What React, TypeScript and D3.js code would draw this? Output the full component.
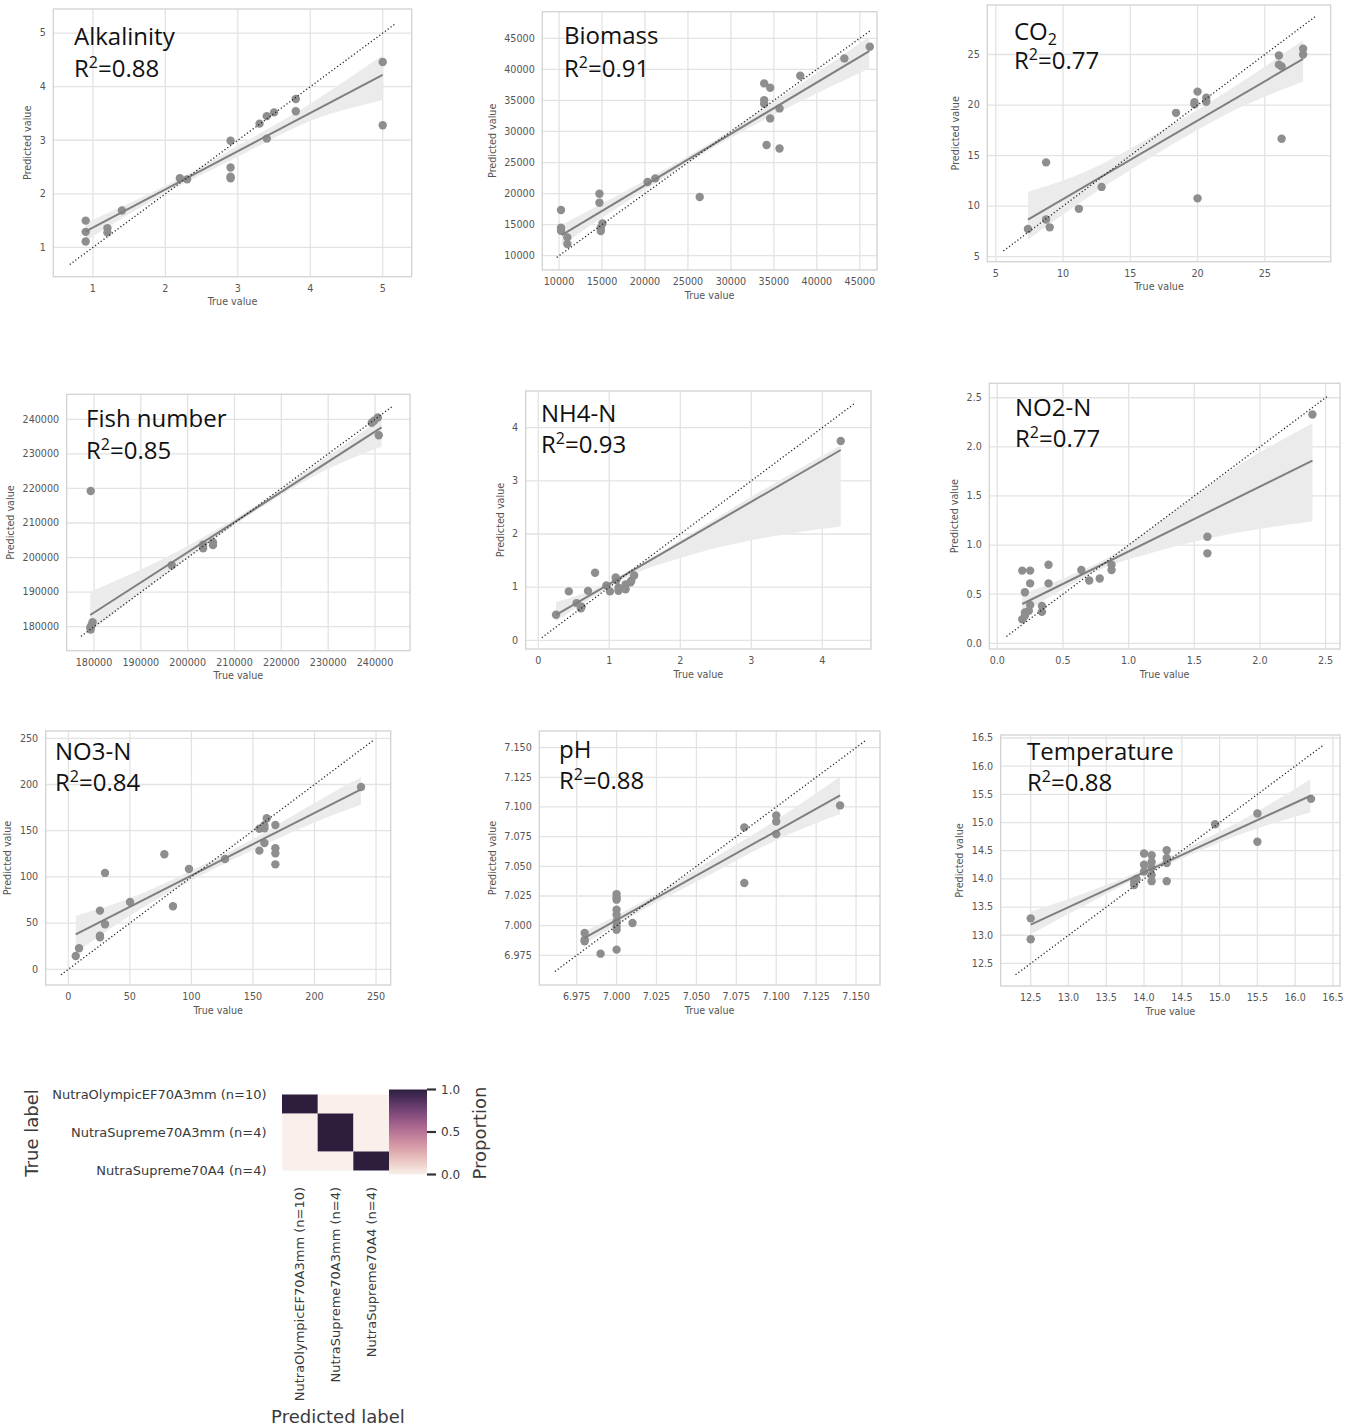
import React from 'react';
import * as d3 from 'd3';

// ---------------- DATA ----------------
const alkTrue = [0.9, 0.9, 0.9, 1.2, 1.2, 1.4, 2.2, 2.3, 2.9, 2.9, 2.9, 2.9, 3.3, 3.4, 3.5, 3.4, 3.8, 3.8, 5.0, 5.0];
const alkPred = [1.5, 1.29, 1.11, 1.36, 1.28, 1.69, 2.29, 2.27, 2.99, 2.49, 2.32, 2.29, 3.31, 3.45, 3.52, 3.03, 3.77, 3.54, 4.46, 3.28];
const alkFit = [0.9, 1.3, 5.0, 4.22];
const alkBandX = [0.9, 2.0, 2.9, 4.0, 5.0];
const alkBandLo = [1.12, 2.01, 2.62, 3.36, 3.75];
const alkBandHi = [1.46, 2.15, 2.82, 3.68, 4.59];
const alkIdent = [0.68, 5.18];
const alkTicks = [1, 2, 3, 4, 5];

const bioTrue = [10230, 10230, 10230, 10970, 10970, 14700, 14700, 14860, 14860, 15050, 20300, 21200, 26370, 33870, 33870, 33870, 34570, 34150, 34570, 35660, 35660, 38070, 43200, 46160];
const bioPred = [17350, 14500, 14000, 12950, 11880, 19980, 18530, 14500, 13970, 15200, 21860, 22450, 19440, 37740, 35050, 34460, 37040, 27810, 32100, 33710, 27270, 38970, 41760, 43640];
const bioFit = [10300, 13330, 46100, 42940];
const bioBandX = [10300, 18000, 27000, 36000, 46100];
const bioBandLo = [11700, 18800, 26600, 33400, 40150];
const bioBandHi = [15000, 20600, 27650, 35700, 45250];
const bioIdent = [9730, 46160];
const bioTicks = [10000, 15000, 20000, 25000, 30000, 35000, 40000, 45000];

const co2True = [7.39, 8.74, 8.74, 9.01, 11.18, 12.87, 18.4, 19.77, 19.77, 20.0, 20.0, 20.65, 20.65, 26.05, 26.05, 26.25, 26.25, 27.85, 27.85];
const co2Pred = [7.73, 14.33, 8.67, 7.9, 9.73, 11.9, 19.23, 20.27, 20.07, 21.33, 10.77, 20.73, 20.33, 24.9, 24.0, 23.83, 16.67, 25.57, 25.0];
const co2Fit = [7.39, 8.67, 27.85, 24.57];
const co2BandX = [7.39, 12, 17, 22, 27.85];
const co2BandLo = [6.67, 11.0, 15.2, 19.0, 22.33];
const co2BandHi = [11.4, 13.6, 17.2, 21.2, 26.4];
const co2Ident = [5.57, 28.74];
const co2Ticks = [5, 10, 15, 20, 25];

const fishTrue = [179300, 179200, 179500, 179700, 179300, 196600, 203300, 203300, 205400, 205400, 239300, 239800, 240600, 240800];
const fishPred = [219250, 179800, 180500, 181300, 179200, 197800, 202700, 203700, 203600, 204400, 239000, 239600, 240500, 235400];
const fishFit = [179200, 183380, 241400, 237670];
const fishBandX = [179200, 195000, 215000, 230000, 241400];
const fishBandLo = [178550, 194800, 213900, 225700, 232070];
const fishBandHi = [190130, 199800, 215400, 229300, 240270];
const fishIdent = [177220, 243900];
const fishTicks = [180000, 190000, 200000, 210000, 220000, 230000, 240000];

const nh4True = [0.25, 0.43, 0.54, 0.61, 0.6, 0.7, 0.8, 0.96, 1.01, 1.09, 1.1, 1.13, 1.13, 1.23, 1.23, 1.31, 1.35, 1.3, 4.26];
const nh4Pred = [0.48, 0.92, 0.7, 0.63, 0.6, 0.93, 1.27, 1.03, 0.92, 1.18, 1.13, 0.99, 0.93, 1.05, 0.96, 1.12, 1.22, 1.09, 3.75];
const nh4Fit = [0.25, 0.48, 4.26, 3.58];
const nh4BandX = [0.25, 0.8, 1.3, 2, 3, 4.26];
const nh4BandLo = [0.36, 0.84, 1.22, 1.55, 1.88, 2.14];
const nh4BandHi = [0.72, 0.97, 1.33, 1.88, 2.7, 3.67];
const nh4Ident = [0.05, 4.46];
const nh4Ticks = [0, 1, 2, 3, 4];

const no2True = [0.19, 0.25, 0.21, 0.25, 0.25, 0.24, 0.21, 0.21, 0.19, 0.39, 0.39, 0.34, 0.34, 0.64, 0.7, 0.78, 0.87, 0.87, 1.6, 1.6, 2.4];
const no2Pred = [0.74, 0.74, 0.52, 0.61, 0.39, 0.33, 0.315, 0.28, 0.244, 0.8, 0.61, 0.38, 0.32, 0.746, 0.64, 0.66, 0.8, 0.746, 1.085, 0.916, 2.33];
const no2Fit = [0.19, 0.4, 2.4, 1.86];
const no2BandX = [0.19, 0.5, 0.8, 1.2, 1.8, 2.4];
const no2BandLo = [0.3, 0.55, 0.76, 0.93, 1.12, 1.24];
const no2BandHi = [0.5, 0.66, 0.84, 1.2, 1.78, 2.24];
const no2Ident = [0.07, 2.51];
const no2Ticks = [0, 0.5, 1.0, 1.5, 2.0, 2.5];

const no3True = [6, 8.7, 25.7, 25.7, 25.7, 29.8, 29.8, 50.1, 78, 85, 98, 127.3, 155.2, 155.2, 159.3, 159.3, 161.2, 159.3, 168.2, 168.2, 168.2, 168.2, 237.8];
const no3Pred = [14.4, 22.7, 63.5, 36.4, 34.6, 48.7, 104.3, 72.9, 124.5, 68.2, 108.6, 119.4, 128.4, 152.2, 152.6, 156, 163.4, 136.7, 156.2, 131, 125.5, 113.6, 197.3];
const no3Fit = [6, 37.9, 237.8, 194.8];
const no3BandX = [6, 50, 100, 150, 200, 237.8];
const no3BandLo = [18, 58, 96, 129, 159, 178];
const no3BandHi = [58, 77, 107, 141, 180, 208];
const no3Ident = [-6, 248.4];
const no3Ticks = [0, 50, 100, 150, 200, 250];

const phTrue = [6.98, 6.98, 6.98, 6.99, 7.0, 7.0, 7.0, 7.0, 7.0, 7.0, 7.0, 7.0, 7.0, 7.01, 7.08, 7.08, 7.1, 7.1, 7.1, 7.14];
const phPred = [6.9938, 6.9882, 6.9868, 6.9764, 7.0266, 7.0238, 7.0219, 7.0134, 7.0092, 7.0036, 6.9994, 6.9966, 6.9798, 7.0022, 7.0828, 7.0359, 7.0928, 7.0878, 7.0771, 7.1013];
const phFit = [6.98, 6.9896, 7.14, 7.1097];
const phBandX = [6.98, 7.02, 7.06, 7.1, 7.14];
const phBandLo = [6.985, 7.016, 7.044, 7.072, 7.094];
const phBandHi = [6.995, 7.023, 7.056, 7.089, 7.1257];
const phIdent = [6.9614, 7.1557];
const phTicks = [6.975, 7.0, 7.025, 7.05, 7.075, 7.1, 7.125, 7.15];

const tempTrue = [12.5, 12.5, 13.87, 13.87, 13.9, 14.0, 14.0, 14.0, 14.1, 14.1, 14.1, 14.1, 14.1, 14.3, 14.3, 14.3, 14.3, 14.94, 15.5, 15.5, 16.21];
const tempPred = [13.3, 12.93, 13.89, 13.95, 14.0, 14.45, 14.25, 14.13, 14.42, 14.3, 14.2, 14.07, 13.96, 14.51, 14.37, 14.28, 13.96, 14.97, 15.16, 14.66, 15.42];
const tempFit = [12.5, 13.19, 16.21, 15.48];
const tempBandX = [12.5, 13.2, 14.0, 14.6, 15.4, 16.2];
const tempBandLo = [13.02, 13.52, 14.07, 14.42, 14.85, 15.18];
const tempBandHi = [13.42, 13.74, 14.17, 14.57, 15.12, 15.77];
const tempIdent = [12.3, 16.385];
const tempTicks = [12.5, 13.0, 13.5, 14.0, 14.5, 15.0, 15.5, 16.0, 16.5];

// confusion matrix
const classLabels = ['NutraOlympicEF70A3mm (n=10)', 'NutraSupreme70A3mm (n=4)', 'NutraSupreme70A4 (n=4)'];
const confusion = [
  [1, 0, 0],
  [0, 1, 0],
  [0, 0, 1],
];
const cbarTicks = [0.0, 0.5, 1.0];

// ---------------- LAYOUT ----------------
type Panel = {
  name: string; sub?: string; r2: string;
  tv: number[]; pv: number[]; fit: number[];
  bx: number[]; bl: number[]; bh: number[]; ident: number[];
  xt: number[]; yt: number[]; dec: number;
  f: [number, number, number, number]; // x0, x1, y0, y1
  dx: [number, number]; dy: [number, number];
  tp: [number, number, number];
};

const panels: Panel[] = [
  { name: 'Alkalinity', r2: '0.88', tv: alkTrue, pv: alkPred, fit: alkFit, bx: alkBandX, bl: alkBandLo, bh: alkBandHi, ident: alkIdent, xt: alkTicks, yt: alkTicks, dec: 0,
    f: [53.3, 411.7, 9, 276.7], dx: [0.453, 5.40], dy: [0.453, 5.45], tp: [74, 45, 77] },
  { name: 'Biomass', r2: '0.91', tv: bioTrue, pv: bioPred, fit: bioFit, bx: bioBandX, bl: bioBandLo, bh: bioBandHi, ident: bioIdent, xt: bioTicks, yt: bioTicks, dec: 0,
    f: [542.3, 877, 11.7, 270], dx: [8052, 47000], dy: [7700, 49280], tp: [564, 44, 77] },
  { name: 'CO', sub: '2', r2: '0.77', tv: co2True, pv: co2Pred, fit: co2Fit, bx: co2BandX, bl: co2BandLo, bh: co2BandHi, ident: co2Ident, xt: co2Ticks, yt: co2Ticks, dec: 0,
    f: [987.3, 1330.7, 5, 261.7], dx: [4.37, 29.9], dy: [4.5, 29.9], tp: [1014, 39.5, 68.5] },
  { name: 'Fish number', r2: '0.85', tv: fishTrue, pv: fishPred, fit: fishFit, bx: fishBandX, bl: fishBandLo, bh: fishBandHi, ident: fishIdent, xt: fishTicks, yt: fishTicks, dec: 0,
    f: [66.7, 410, 394.3, 650.7], dx: [174170, 247470], dy: [173060, 247230], tp: [86, 426.7, 459] },
  { name: 'NH4-N', r2: '0.93', tv: nh4True, pv: nh4Pred, fit: nh4Fit, bx: nh4BandX, bl: nh4BandLo, bh: nh4BandHi, ident: nh4Ident, xt: nh4Ticks, yt: nh4Ticks, dec: 0,
    f: [525.7, 871, 391, 649], dx: [-0.177, 4.686], dy: [-0.164, 4.69], tp: [541, 422.3, 453.3] },
  { name: 'NO2-N', r2: '0.77', tv: no2True, pv: no2Pred, fit: no2Fit, bx: no2BandX, bl: no2BandLo, bh: no2BandHi, ident: no2Ident, xt: no2Ticks, yt: no2Ticks, dec: 1,
    f: [989.3, 1340, 383.3, 649], dx: [-0.061, 2.61], dy: [-0.058, 2.647], tp: [1015, 415.7, 446.7] },
  { name: 'NO3-N', r2: '0.84', tv: no3True, pv: no3Pred, fit: no3Fit, bx: no3BandX, bl: no3BandLo, bh: no3BandHi, ident: no3Ident, xt: no3Ticks, yt: no3Ticks, dec: 0,
    f: [45.7, 390.7, 731, 985], dx: [-18.4, 261.9], dy: [-17, 257.9], tp: [55, 760, 791] },
  { name: 'pH', r2: '0.88', tv: phTrue, pv: phPred, fit: phFit, bx: phBandX, bl: phBandLo, bh: phBandHi, ident: phIdent, xt: phTicks, yt: phTicks, dec: 3,
    f: [539.3, 880, 731, 985], dx: [6.9516, 7.165], dy: [6.95, 7.164], tp: [559, 758.3, 789] },
  { name: 'Temperature', r2: '0.88', tv: tempTrue, pv: tempPred, fit: tempFit, bx: tempBandX, bl: tempBandLo, bh: tempBandHi, ident: tempIdent, xt: tempTicks, yt: tempTicks, dec: 1,
    f: [1000.7, 1340, 735, 986], dx: [12.103, 16.593], dy: [12.10, 16.553], tp: [1027, 760, 791] },
];

const TICK_FONT = 'DejaVu Sans, sans-serif';
const TICK_SIZE = 9.6;
const TICK_COLOR = '#555';
const TITLE_FONT = '"Open Sans", sans-serif';

function textWidth(s: string, size: number) {
  let w = 0;
  for (const c of s) w += c === '.' ? 0.318 : c === '-' ? 0.361 : 0.636;
  return w * size;
}

function ScatterPanel({ p }: { p: Panel }) {
  const [x0, x1, y0, y1] = p.f;
  const x = d3.scaleLinear().domain(p.dx).range([x0, x1]);
  const y = d3.scaleLinear().domain(p.dy).range([y1, y0]);
  const fmt = (v: number) => v.toFixed(p.dec);
  const bandPts = p.bx.map((v, i) => ({ x: v, lo: p.bl[i], hi: p.bh[i] }));
  const area = d3.area<{ x: number; lo: number; hi: number }>()
    .x(d => x(d.x)).y0(d => y(d.lo)).y1(d => y(d.hi)).curve(d3.curveMonotoneX);
  const fitLine = d3.line<number[]>().x(d => x(d[0])).y(d => y(d[1]));
  const identLine = d3.line<number>().x(d => x(d)).y(d => y(d));
  const maxW = d3.max(p.yt.map(t => textWidth(fmt(t), TICK_SIZE))) || 0;
  const yTitleX = x0 - 7.5 - maxW - 8.5;
  const cy = (y0 + y1) / 2;
  const cx = (x0 + x1) / 2;
  const xtv = p.xt.filter(t => x(t) >= x0 - 0.5 && x(t) <= x1 + 0.5);
  const ytv = p.yt.filter(t => y(t) >= y0 - 0.5 && y(t) <= y1 + 0.5);
  return (
    <g>
      {xtv.map(t => (
        <line key={'gx' + t} x1={x(t)} x2={x(t)} y1={y0} y2={y1} stroke="#e3e3e3" strokeWidth={1.3} />
      ))}
      {ytv.map(t => (
        <line key={'gy' + t} x1={x0} x2={x1} y1={y(t)} y2={y(t)} stroke="#e3e3e3" strokeWidth={1.3} />
      ))}
      <rect x={x0} y={y0} width={x1 - x0} height={y1 - y0} fill="none" stroke="#d2d2d2" strokeWidth={1.3} />
      <path d={area(bandPts) || ''} fill="#ebebeb" />
      {p.tv.map((v, i) => (
        <circle key={i} cx={x(v)} cy={y(p.pv[i])} r={4.2} fill="#8e8e8e" />
      ))}
      <path d={fitLine([[p.fit[0], p.fit[1]], [p.fit[2], p.fit[3]]]) || ''} stroke="#7f7f7f" strokeWidth={2} fill="none" />
      <path d={identLine(p.ident) || ''} stroke="#222" strokeWidth={1.3} strokeDasharray="1.2 2.3" fill="none" />
      {xtv.map(t => (
        <text key={'tx' + t} x={x(t)} y={y1 + 15} textAnchor="middle" fontFamily={TICK_FONT} fontSize={TICK_SIZE} fill={TICK_COLOR}>{fmt(t)}</text>
      ))}
      {ytv.map(t => (
        <text key={'ty' + t} x={x0 - 7.5} y={y(t)} dy="0.35em" textAnchor="end" fontFamily={TICK_FONT} fontSize={TICK_SIZE} fill={TICK_COLOR}>{fmt(t)}</text>
      ))}
      <text x={cx} y={y1 + 28.5} textAnchor="middle" fontFamily={TICK_FONT} fontSize={TICK_SIZE} fill={TICK_COLOR}>True value</text>
      <text transform={`translate(${yTitleX},${cy}) rotate(-90)`} textAnchor="middle" fontFamily={TICK_FONT} fontSize={TICK_SIZE} fill={TICK_COLOR}>Predicted value</text>
      <text x={p.tp[0]} y={p.tp[1]} fontFamily={TITLE_FONT} fontSize={24} fill="#111">
        {p.name}
        {p.sub ? <tspan fontSize={16} dy={5}>{p.sub}</tspan> : null}
      </text>
      <text x={p.tp[0]} y={p.tp[2]} fontFamily={TITLE_FONT} fontSize={24} fill="#111">
        R<tspan fontSize={16} dy={-9}>2</tspan><tspan dy={9}>=</tspan>{p.r2}
      </text>
    </g>
  );
}

// seaborn cubehelix_palette(light=.95, as_cmap=True)
function cubehelix(t: number) {
  const start = 0, rot = 0.4, hue = 0.8, light = 0.95, dark = 0.15;
  const lam = light + (dark - light) * t;
  const phi = 2 * Math.PI * (start / 3 + rot * lam);
  const a = (hue * lam * (1 - lam)) / 2;
  const c = Math.cos(phi), s = Math.sin(phi);
  const r = lam + a * (-0.14861 * c + 1.78277 * s);
  const g = lam + a * (-0.29227 * c - 0.90649 * s);
  const b = lam + a * (1.97294 * c);
  const cl = (v: number) => Math.round(Math.max(0, Math.min(1, v)) * 255);
  return `rgb(${cl(r)},${cl(g)},${cl(b)})`;
}

function Heatmap() {
  const hx = d3.scaleBand<number>().domain([0, 1, 2]).range([282, 389]);
  const hy = d3.scaleBand<number>().domain([0, 1, 2]).range([1075.5, 1189.5]);
  const clipTop = 1094.5, clipBot = 1170.5;
  const cb = d3.scaleLinear().domain([0, 1]).range([1174.5, 1089.5]);
  const stops = d3.range(0, 1.0001, 0.05);
  const lab = '#3a3a3a';
  return (
    <g>
      <defs>
        <clipPath id="hmclip">
          <rect x={282} y={clipTop} width={107} height={clipBot - clipTop} />
        </clipPath>
        <linearGradient id="cbgrad" x1="0" y1="1" x2="0" y2="0">
          {stops.map(s => <stop key={s} offset={s} stopColor={cubehelix(s)} />)}
        </linearGradient>
      </defs>
      <g clipPath="url(#hmclip)">
        {confusion.map((row, i) => row.map((v, j) => (
          <rect key={i + '-' + j} x={hx(j)} y={hy(i)} width={hx.bandwidth() + 0.3} height={hy.bandwidth() + 0.3} fill={cubehelix(v)} />
        )))}
      </g>
      <rect x={389} y={cb(1)} width={38} height={cb(0) - cb(1)} fill="url(#cbgrad)" />
      {cbarTicks.map(t => (
        <g key={t}>
          <line x1={427} x2={436} y1={cb(t)} y2={cb(t)} stroke="#333" strokeWidth={2.2} />
          <text x={441} y={cb(t)} dy="0.35em" fontFamily={TICK_FONT} fontSize={12} fill={lab}>{t.toFixed(1)}</text>
        </g>
      ))}
      <text transform={`translate(486,1133) rotate(-90)`} textAnchor="middle" fontFamily={TICK_FONT} fontSize={18} fill={lab}>Proportion</text>
      {classLabels.map((l, i) => (
        <text key={'r' + i} x={266.5} y={hy(i)! + hy.bandwidth() / 2} dy="0.35em" textAnchor="end" fontFamily={TICK_FONT} fontSize={13} fill={lab}>{l}</text>
      ))}
      {classLabels.map((l, j) => (
        <text key={'c' + j} transform={`translate(${hx(j)! + hx.bandwidth() / 2},1187) rotate(-90)`} dy="0.35em" textAnchor="end" fontFamily={TICK_FONT} fontSize={13} fill={lab}>{l}</text>
      ))}
      <text transform={`translate(38,1133) rotate(-90)`} textAnchor="middle" fontFamily={TICK_FONT} fontSize={18} fill={lab}>True label</text>
      <text x={338} y={1423} textAnchor="middle" fontFamily={TICK_FONT} fontSize={18} fill={lab}>Predicted label</text>
    </g>
  );
}

export default function App() {
  return (
    <svg width={1355} height={1428} viewBox="0 0 1355 1428"
      style={{ position: 'absolute', left: 0, top: 0, background: '#fff', display: 'block' }}>
      <rect x={0} y={0} width={1355} height={1428} fill="#fff" />
      {panels.map(p => <ScatterPanel key={p.name} p={p} />)}
      <Heatmap />
    </svg>
  );
}
